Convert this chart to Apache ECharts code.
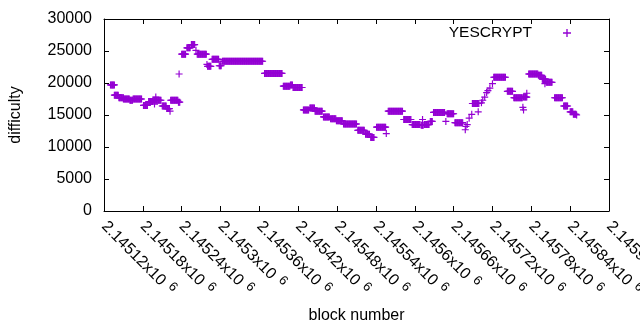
<!DOCTYPE html>
<html>
<head>
<meta charset="utf-8">
<script src="https://cdn.jsdelivr.net/npm/echarts@6/dist/echarts.min.js"></script>
<style>html,body{margin:0;padding:0;background:#fff}#c{width:640px;height:330px}</style>
</head>
<body>
<div id="c"></div>
<script>
// Runs of blocks sharing the same difficulty (single points have from == to)
var runFrom = [2145130,2145136,2145143,2145150,2145160,2145165,2145181,2145189,2145196,2145198,2145200,2145210,2145217,2145222,2145223,2145235,2145236,2145240,2145248,2145255,2145262,2145264,2145279,2145280,2145287,2145298,2145303,2145368,2145397,2145408,2145412,2145428,2145438,2145446,2145459,2145470,2145479,2145490,2145512,2145524,2145532,2145541,2145556,2145559,2145583,2145596,2145610,2145612,2145615,2145624,2145629,2145648,2145650,2145662,2145678,2145679,2145681,2145684,2145688,2145689,2145698,2145703,2145705,2145708,2145711,2145713,2145716,2145720,2145722,2145743,2145753,2145767,2145768,2145768,2145773,2145776,2145791,2145797,2145801,2145803,2145816,2145830,2145840,2145845,2145850];
var runTo   = [2145136,2145142,2145150,2145159,2145164,2145178,2145187,2145195,2145208,2145198,2145200,2145216,2145221,2145222,2145234,2145237,2145236,2145246,2145253,2145260,2145262,2145278,2145279,2145285,2145297,2145301,2145365,2145395,2145407,2145411,2145426,2145436,2145445,2145457,2145468,2145478,2145488,2145510,2145522,2145530,2145537,2145555,2145556,2145581,2145594,2145608,2145613,2145612,2145622,2145627,2145646,2145648,2145660,2145674,2145678,2145679,2145681,2145684,2145688,2145699,2145698,2145703,2145705,2145708,2145711,2145713,2145716,2145720,2145740,2145751,2145766,2145767,2145768,2145773,2145773,2145790,2145796,2145802,2145801,2145812,2145828,2145836,2145844,2145849,2145850];
var runDifficulty = [19700,18100,17700,17500,17300,17500,16500,17100,17300,16700,17800,16400,16000,15600,17300,17000,21400,24500,25500,26000,25100,24500,22900,22600,23700,22700,23400,21500,19500,19700,19300,15800,16100,15600,14700,14400,14100,13600,12600,12000,11500,13100,12100,15600,14300,13500,13400,14300,13500,14000,15400,14000,15200,13800,12700,13200,13500,14500,15100,16800,15500,16900,17300,17800,18500,18800,19200,19900,20900,18700,17700,16200,15800,17800,18400,21400,21200,20600,19900,20100,17700,16400,15500,15100,15000];

var xTickLabels = ['2.14512','2.14518','2.14524','2.1453','2.14536','2.14542','2.14548','2.14554','2.1456','2.14566','2.14572','2.14578','2.14584','2.1459'];
var yTickLabels = ['0','5000','10000','15000','20000','25000','30000'];
var seriesName = 'YESCRYPT';

var X_MIN = 2145120, X_MAX = 2145900, X_STEP = 60;

var points = [];
for (var i = 0; i < runFrom.length; i++) {
  for (var b = runFrom[i]; b <= runTo[i]; b++) points.push([b, runDifficulty[i]]);
}

var plus = 'path://M-0.5,-3L0.5,-3L0.5,-0.5L3,-0.5L3,0.5L0.5,0.5L0.5,3L-0.5,3L-0.5,0.5L-3,0.5L-3,-0.5L-0.5,-0.5Z';
var FONT = 'Liberation Sans';
var color = '#9400d3';

var chart = echarts.init(document.getElementById('c'), null, {renderer: 'canvas'});
var xAxisBase = {
  type: 'value', min: X_MIN, max: X_MAX, interval: X_STEP,
  splitLine: {show: false},
  axisLine: {show: true, onZero: false, lineStyle: {color: '#000', width: 1}},
  axisTick: {show: true, inside: true, length: 5, lineStyle: {color: '#000'}}
};
var yAxisBase = {
  type: 'value', min: 0, max: 30000, interval: 5000,
  splitLine: {show: false},
  axisLine: {show: true, onZero: false, lineStyle: {color: '#000', width: 1}},
  axisTick: {show: true, inside: true, length: 5, lineStyle: {color: '#000'}}
};
chart.setOption({
  animation: false,
  backgroundColor: '#fff',
  grid: {left: 104, right: 31, top: 19, bottom: 119, containLabel: false, outerBoundsMode: 'none'},
  legend: {
    data: [{name: seriesName, icon: plus}],
    right: 64, top: 20, itemWidth: 8, itemHeight: 8, align: 'right',
    textStyle: {fontFamily: FONT, fontSize: 15.5, color: '#000', padding: [0, 26, 0, 0]}
  },
  xAxis: [
    Object.assign({}, xAxisBase, {
      position: 'bottom',
      name: 'block number', nameLocation: 'middle', nameGap: 97,
      nameTextStyle: {fontFamily: FONT, fontSize: 16, color: '#000'},
      axisLabel: {
        show: true, rotate: -45, margin: 13, showMaxLabel: true, showMinLabel: true,
        formatter: function (v) {
          var idx = Math.round((v - X_MIN) / X_STEP);
          return '{m|' + xTickLabels[idx] + 'x10}{s|6}';
        },
        rich: {
          m: {fontFamily: FONT, fontSize: 16, color: '#000'},
          s: {fontFamily: FONT, fontSize: 13, color: '#000', padding: [0, 0, 8, 6]}
        }
      }
    }),
    Object.assign({}, xAxisBase, {position: 'top', axisLabel: {show: false}})
  ],
  yAxis: [
    Object.assign({}, yAxisBase, {
      position: 'left',
      name: 'difficulty', nameLocation: 'middle', nameGap: 80,
      nameTextStyle: {fontFamily: FONT, fontSize: 16, color: '#000'},
      axisLabel: {
        show: true, margin: 12, fontFamily: FONT, fontSize: 16, color: '#000',
        formatter: function (v) { return yTickLabels[Math.round(v / 5000)]; }
      }
    }),
    Object.assign({}, yAxisBase, {position: 'right', axisLabel: {show: false}})
  ],
  series: [{
    name: seriesName, type: 'scatter', symbol: plus, symbolSize: 7,
    itemStyle: {color: color, opacity: 1},
    xAxisIndex: 0, yAxisIndex: 0,
    data: points, large: false
  }]
});
</script>
</body>
</html>
